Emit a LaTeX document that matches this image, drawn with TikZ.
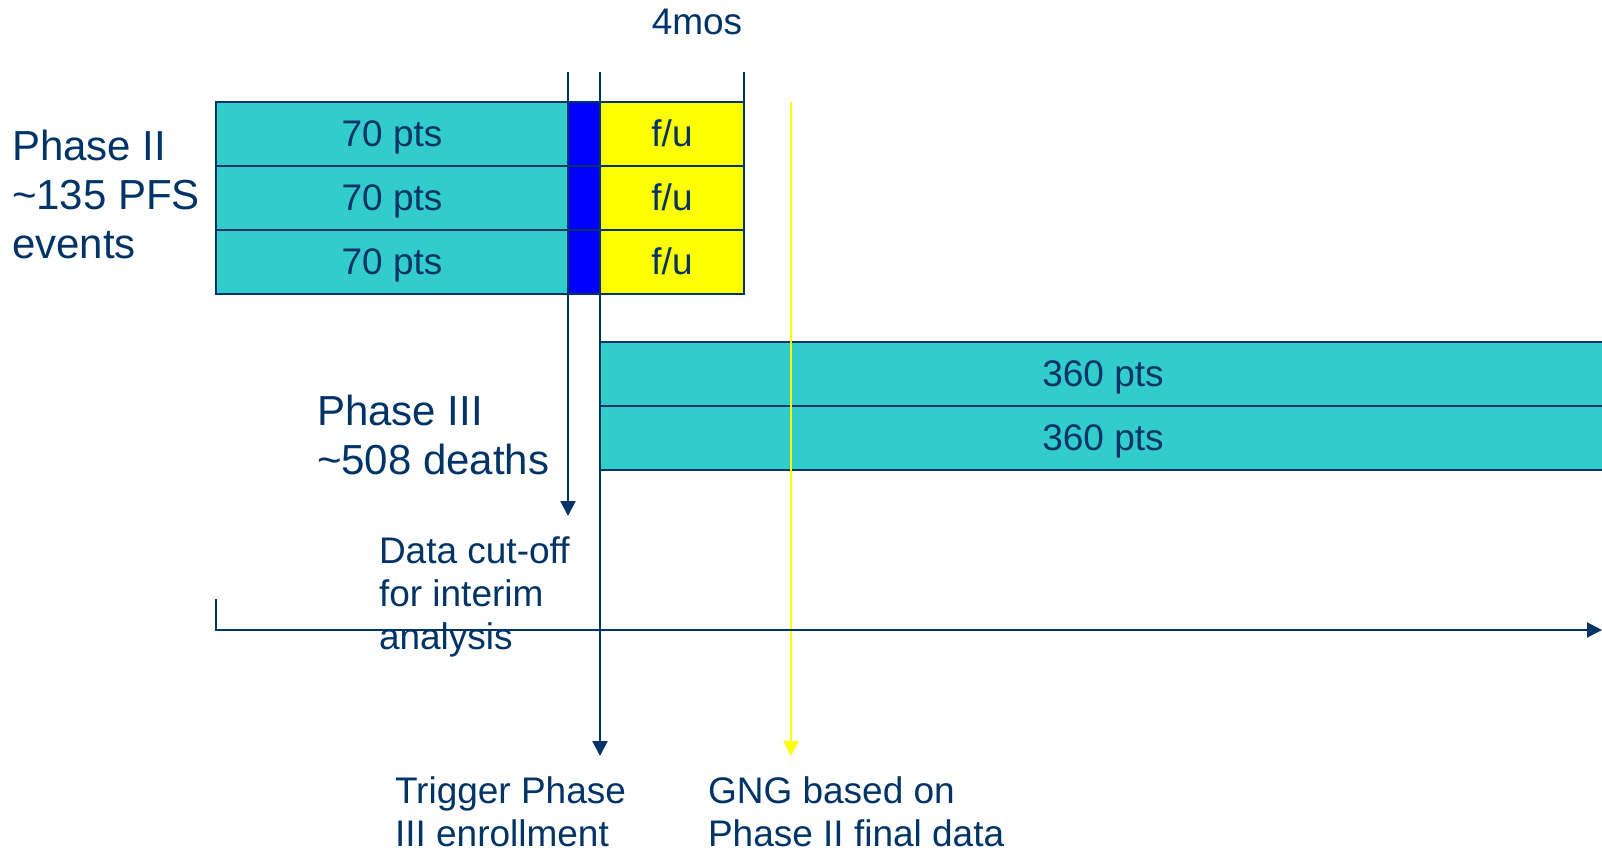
\documentclass[tikz,border=0pt]{standalone}
\usepackage{fontspec}
\setmainfont{Liberation Sans}
\usetikzlibrary{arrows.meta}
\definecolor{navy}{HTML}{003366}
\definecolor{armcyan}{HTML}{33CCCC}
\definecolor{armblue}{HTML}{0000FF}
\definecolor{armyellow}{HTML}{FFFF00}
\begin{document}
\begin{tikzpicture}[x=0.5pt, y=-0.5pt,
    every node/.style={text=navy, inner sep=0pt, outer sep=0pt},
    cell/.style={draw=navy, line width=0.8pt, minimum height=32pt, anchor=north west,
        text height=12.6pt, text depth=0pt, font=\fontsize{18.5}{21}\selectfont},
    big/.style={align=left, anchor=west, font=\fontsize{21}{24.5}\selectfont},
    small/.style={align=left, anchor=west, font=\fontsize{18.5}{21.3}\selectfont},
    tip/.style={-{Triangle[width=7.5pt,length=7.5pt]}},
    line/.style={draw=navy, line width=1pt}]
    \useasboundingbox (0,0) rectangle (1602,852);

    % Phase II rows
    \node[cell, fill=armcyan, minimum width=176pt] (c1) at (216,102) {70 pts};
    \node[cell, fill=armcyan, minimum width=176pt] (c2) at (216,166) {70 pts};
    \node[cell, fill=armcyan, minimum width=176pt] (c3) at (216,230) {70 pts};

    \node[cell, fill=armblue, minimum width=16pt] (b1) at (568,102) {};
    \node[cell, fill=armblue, minimum width=16pt] (b2) at (568,166) {};
    \node[cell, fill=armblue, minimum width=16pt] (b3) at (568,230) {};

    \node[cell, fill=armyellow, minimum width=72pt] (y1) at (600,102) {f/u};
    \node[cell, fill=armyellow, minimum width=72pt] (y2) at (600,166) {f/u};
    \node[cell, fill=armyellow, minimum width=72pt] (y3) at (600,230) {f/u};

    % Phase III rows
    \node[cell, fill=armcyan, minimum width=503pt] (d1) at (600,342) {360 pts};
    \node[cell, fill=armcyan, minimum width=503pt] (d2) at (600,406) {360 pts};

    % Timeline marks
    \coordinate (cuttop) at (568,71.5);
    \coordinate (cutend) at (568,516);
    \coordinate (trigtop) at (600,71.5);
    \coordinate (trigend) at (600,756);
    \coordinate (futop) at (744,71.5);
    \coordinate (fuend) at (744,102);
    \coordinate (gngtop) at (791,102);
    \coordinate (gngend) at (791,756);

    \draw[line, tip] (cuttop) -- (cutend);
    \draw[line, tip] (trigtop) -- (trigend);
    \draw[line] (futop) -- (fuend);
    \draw[armyellow, line width=1.2pt, tip] (gngtop) -- (gngend);

    % Time axis
    \coordinate (ax0) at (216,599);
    \coordinate (ax1) at (216,630);
    \coordinate (ax2) at (1602,630);
    \draw[line, tip] (ax0) -- (ax1) -- (ax2);

    % Labels
    \node[small, anchor=center] (mos) at (697,22) {4mos};
    \node[big] (ph2) at (12,194) {Phase II\\\textasciitilde135 PFS\\events};
    \node[big] (ph3) at (317,434.5) {Phase III\\\textasciitilde508 deaths};
    \node[small] (cut) at (379,597) {Data cut-off\\for interim\\analysis};
    \node[small] (trig) at (395,812) {Trigger Phase\\III enrollment};
    \node[small] (gng) at (708,812) {GNG based on\\Phase II final data};
\end{tikzpicture}
\end{document}
